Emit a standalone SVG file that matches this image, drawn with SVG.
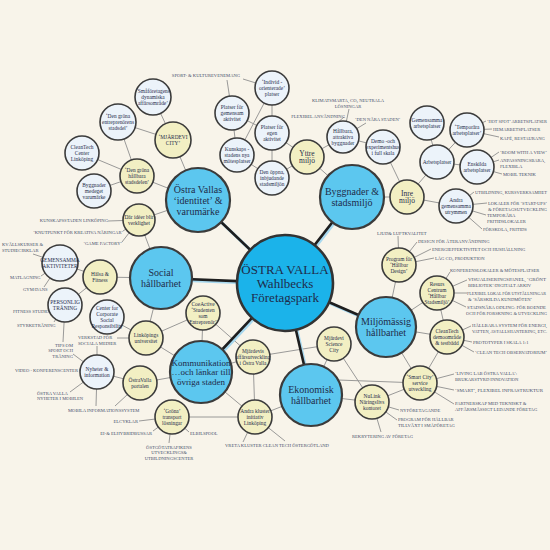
<svg xmlns="http://www.w3.org/2000/svg" width="550" height="550" viewBox="0 0 550 550">
<style>
.ln{stroke:#8e8e8e;stroke-width:0.9;fill:none}
.tk{stroke:#1e1e1e;stroke-width:2.6;fill:none}
.sh{stroke:#a9d9ef;stroke-width:3;fill:none}
.lb circle{fill:#ecf3fa;stroke:#3b3b3b;stroke-width:1.6}
.y circle{fill:#f2efc3;stroke:#3b3b3b;stroke-width:1.6}
.m circle{fill:#5cc7ef;stroke:#3b3b3b;stroke-width:2.2}
.ctr circle{fill:#1bb3ea;stroke:#333;stroke-width:2.6}
text{font-family:"Liberation Serif","DejaVu Serif",serif;text-anchor:middle;fill:#1f2c4a}
.lb text,.y text{font-size:5.4px}
.big text{font-size:7.5px}
.m text{font-size:10px}
.ctr text{font-size:13px}
.lab{font-size:4.6px;fill:#46506a;text-anchor:start}
.e{text-anchor:end}
.mid{text-anchor:middle}
</style>
<rect width="550" height="550" fill="#f8f4ea"/>
<g id="connectors">
<path class="ln" d="M153 97L173 140M118 122L173 140M118 122L137 176M82 153L137 176M94 191L137 176M137 176L198 200M173 140L198 200M139 220L198 200M139 220L161 278M232 113L237 155M232 113L272 133M272 88L272 133M272 88L237 155M237 155L272 178M272 133L272 178M272 178L307 157M272 133L307 157M307 157L343 137M307 157L352 197M343 137L383 147M383 147L407 197M407 197L352 197M407 197L437 162M407 197L456 206M427 123L437 162M467 130L437 162M437 162L477 167M399 265L386 327M437 293L386 327M437 293L447 337M447 337L386 327M447 337L420 383M420 383L386 327M338 380L420 383M420 383L372 402M372 402L311 395M372 402L334 344M334 344L311 395M334 344L253 357M253 357L201 372M253 357L255 417M253 357L203 313M255 417L311 395M255 417L172 417M255 417L201 372M140 383L201 372M140 383L97 372M107 317L146 338M146 338L161 278M146 338L203 313M146 338L201 372M203 313L201 372M65 305L100 277M60 263L100 277M100 277L161 278"/>
<path class="ln" d="M227 80L232 113M243 79L272 88M349 109L343 137M344 117L336 124M366 123L343 137M486 121L467 130M492 129L467 130M499 137L467 130M499 152L477 167M499 160L477 167M502 174L477 167M474 192L456 206M487 203L456 206M486 215L456 206M482 229L456 206M398 236L399 265M417 242L399 265M431 249L399 265M434 258L399 265M450 272L437 293M467 280L437 293M467 293L437 293M466 307L437 293M471 326L447 337M472 342L447 337M474 352L447 337M454 374L420 383M454 390L420 383M454 404L420 383M399 410L372 402M397 420L372 402M381 432L372 402M243 442L255 417M285 441L255 417M189 432L172 417M169 443L172 417M139 421L172 417M153 431L172 417M115 406L140 383M96 406L97 372M70 392L97 372M79 370L97 372M73 354L97 372M97 346L97 372M117 338L146 338M63 342L65 305M54 322L65 305M52 311L65 305M44 287L60 263M41 276L60 263M33 254L60 263M108 221L139 220M123 231L139 220M122 242L139 220"/>
<g transform="translate(1.4,1.4)"><path class="sh" d="M285 283L198 200M285 283L352 197M285 283L161 278M285 283L201 372M285 283L311 395M285 283L386 327"/></g>
<path class="tk" d="M285 283L198 200M285 283L352 197M285 283L161 278M285 283L201 372M285 283L311 395M285 283L386 327"/>
</g>
<g id="labels">
<text class="lab mid" x="206" y="76.6">SPORT- &amp; KULTUREVENEMANG</text>
<text class="lab mid" x="348" y="101.6">KLIMATSMARTA, CO₂ NEUTRALA<tspan x="348" dy="6">LÖSNINGAR</tspan></text>
<text class="lab e" x="345" y="117.6">FLEXIBEL ANVÄNDNING</text>
<text class="lab" x="355" y="120.6">‘DEN NÄRA STADEN’</text>
<text class="lab" x="487" y="122.6" textLength="60" lengthAdjust="spacingAndGlyphs">‘HOT SPOT’ ARBETSPLATSER</text>
<text class="lab" x="493" y="130.6">HEMARBETSPLATSER</text>
<text class="lab" x="500" y="139.6">KAFÉ, RESTAURANG</text>
<text class="lab" x="500" y="153.6">‘ROOM WITH A VIEW’</text>
<text class="lab" x="500" y="161.6">ANPASSNINGSBARA,<tspan x="500" dy="6.5">FLEXIBLA</tspan></text>
<text class="lab" x="503" y="175.6">MOBIL TEKNIK</text>
<text class="lab" x="475" y="193.6" textLength="72" lengthAdjust="spacingAndGlyphs">UTBILDNING, KURSVERKSAMHET</text>
<text class="lab" x="488" y="204.6" textLength="59" lengthAdjust="spacingAndGlyphs">LOKALER FÖR ‘START-UPS’</text>
<text class="lab" x="488" y="210.6" textLength="59" lengthAdjust="spacingAndGlyphs">&amp; FÖRETAGSUTVECKLING</text>
<text class="lab" x="487" y="216.6">TEMPORÄRA<tspan x="487" dy="6">FRITIDSLOKALER</tspan></text>
<text class="lab" x="483" y="230.6">FÖRSKOLA, FRITIDS</text>
<text class="lab" x="377" y="234.6">LJUD&amp; LUFTKVALITET</text>
<text class="lab" x="418" y="242.6">DESIGN FÖR ÅTERANVÄNDNING</text>
<text class="lab" x="432" y="250.6">ENERGIEFFEKTIVITET OCH HUSHÅLLNING</text>
<text class="lab" x="435" y="259.6">LÅG CO₂ PRODUKTION</text>
<text class="lab" x="450" y="271.6">KONFERENSLOKALER &amp; MÖTESPLATSER</text>
<text class="lab" x="468" y="280.6" textLength="78" lengthAdjust="spacingAndGlyphs">VISUALISERINGSPANEL, ‘GRÖNT</text>
<text class="lab" x="468" y="286.6">BIBLIOTEK’/DIGITALT ARKIV</text>
<text class="lab" x="467" y="294.6" style="font-size:4.15px">FLEXIBEL LOKAL FÖR UTSTÄLLNINGAR</text>
<text class="lab" x="468" y="300.6">&amp; ‘SÄRSKILDA KUNDMÖTEN’</text>
<text class="lab" x="467" y="308.6" textLength="79" lengthAdjust="spacingAndGlyphs">STADSNÄRA ODLING: FÖR BOENDE</text>
<text class="lab" x="466" y="314.6" textLength="81" lengthAdjust="spacingAndGlyphs">OCH FÖR FORSKNING &amp; UTVECKLING</text>
<text class="lab" x="472" y="326.6" textLength="75" lengthAdjust="spacingAndGlyphs">HÅLLBARA SYSTEM FÖR ENERGI,</text>
<text class="lab" x="472" y="332.6" textLength="75" lengthAdjust="spacingAndGlyphs">VATTEN, AVFALLSHANTERING, ETC.</text>
<text class="lab" x="473" y="343.6">PROTOTYPER I SKALA 1:1</text>
<text class="lab" x="475" y="353.6" textLength="72" lengthAdjust="spacingAndGlyphs">‘CLEAN TECH OBSERVATORIUM’</text>
<text class="lab" x="455" y="374.6">‘LIVING LAB ÖSTRA VALLA’:<tspan x="455" dy="6">BRUKARSTYRD INNOVATION</tspan></text>
<text class="lab" x="455" y="391.6" textLength="88" lengthAdjust="spacingAndGlyphs">‘SMART’, FLEXIBEL INFRASTRUKTUR</text>
<text class="lab" x="455" y="404.6">PARTNERSKAP MED TEKNISKT  &amp;<tspan x="455" dy="6">AFFÄRSMÄSSIGT LEDANDE FÖRETAG</tspan></text>
<text class="lab" x="400" y="411.6">NYFÖRETAGANDE</text>
<text class="lab" x="398" y="420.6">PROGRAM FÖR HÅLLBAR<tspan x="398" dy="6">TILLVÄXT I SMÅFÖRETAG</tspan></text>
<text class="lab" x="352" y="437.6">REKRYTERING AV FÖRETAG</text>
<text class="lab" x="225" y="446.6">VRETA KLUSTER CLEAN TECH ÖSTERGÖTLAND</text>
<text class="lab" x="190" y="434.6">ELBILSPOOL</text>
<text class="lab mid" x="169" y="448.6">ÖSTGÖTATRAFIKENS<tspan x="169" dy="5.5">UTVECKLINGS&amp;</tspan><tspan x="169" dy="5.5">UTBILDNINGSCENTER</tspan></text>
<text class="lab e" x="138" y="422.6">ELCYKLAR</text>
<text class="lab e" x="152" y="434.6">EI-&amp; ELHYBRIDBUSSAR</text>
<text class="lab" x="68" y="411.6">MOBILA INFORMATIONSSYSTEM</text>
<text class="lab" x="37" y="394.6">ÖSTRA VALLA<tspan x="37" dy="5.5">NYHETER I MOBILEN</tspan></text>
<text class="lab e" x="78" y="371.6">VIDEO - KONFERENSCENTER</text>
<text class="lab e" x="73" y="346.6">TIPS OM<tspan x="73" dy="5.5">SPORT OCH</tspan><tspan x="73" dy="5.5">TRÄNING</tspan></text>
<text class="lab" x="78" y="338.6">VERKSTAD FÖR<tspan x="78" dy="6">SOCIALA MEDIER</tspan></text>
<text class="lab" x="17" y="326.6">STYRKETRÄNING</text>
<text class="lab" x="13" y="312.6">FITNESS STUDIO</text>
<text class="lab" x="23" y="290.6">GYM/DANS</text>
<text class="lab" x="10" y="278.6">MATLAGNING</text>
<text class="lab" x="2" y="245.6">KVÄLLSKURSER &amp;<tspan x="2" dy="6.5">STUDIECIRKLAR</tspan></text>
<text class="lab e" x="122" y="244.6">‘GAME FACTORY’</text>
<text class="lab e" x="123" y="233.6">‘KNUTPUNKT FÖR KREATIVA NÄRINGAR’</text>
<text class="lab e" x="108" y="221.6">KUNSKAPSSTADEN LINKÖPING</text>
</g>
<g id="n-smaforetagens" class="lb"><circle cx="153" cy="97" r="18"/><text x="153" y="92.9">‘Småföretagens<tspan x="153" dy="6">dynamiska</tspan><tspan x="153" dy="6">affärsområde’</tspan></text></g>
<g id="n-mjardevi-city" class="y"><circle cx="173" cy="140" r="18"/><text x="173" y="138.9">‘MJÄRDEVI<tspan x="173" dy="6">CITY’</tspan></text></g>
<g id="n-den-grona-entr" class="lb"><circle cx="118" cy="122" r="18"/><text x="118" y="117.9">‘Den gröna<tspan x="118" dy="6">entreprenörens</tspan><tspan x="118" dy="6">stadsdel’</tspan></text></g>
<g id="n-cleantech-center" class="lb"><circle cx="82" cy="153" r="17"/><text x="82" y="148.9">CleanTech<tspan x="82" dy="6">Center</tspan><tspan x="82" dy="6">Linköping</tspan></text></g>
<g id="n-den-grona-hallbara" class="y"><circle cx="137" cy="176" r="17"/><text x="137" y="171.9">‘Den gröna<tspan x="137" dy="6">hållbara</tspan><tspan x="137" dy="6">stadsdelen’</tspan></text></g>
<g id="n-byggnader-medeget" class="lb"><circle cx="94" cy="191" r="17"/><text x="94" y="186.9">Byggnader<tspan x="94" dy="6">medeget</tspan><tspan x="94" dy="6">varumärke</tspan></text></g>
<g id="n-dar-ideer" class="y"><circle cx="139" cy="220" r="16"/><text x="139" y="218.9">Där idéer blir<tspan x="139" dy="6">verklighet</tspan></text></g>
<g id="n-platser-gemensam" class="lb"><circle cx="232" cy="113" r="17"/><text x="232" y="108.9">Platser för<tspan x="232" dy="6">gemensam</tspan><tspan x="232" dy="6">aktivitet</tspan></text></g>
<g id="n-individ" class="lb"><circle cx="272" cy="88" r="17"/><text x="272" y="83.9">‘Individ -<tspan x="272" dy="6">orienterade’</tspan><tspan x="272" dy="6">platser</tspan></text></g>
<g id="n-platser-egen" class="lb"><circle cx="272" cy="133" r="17"/><text x="272" y="128.9">Platser för<tspan x="272" dy="6">egen</tspan><tspan x="272" dy="6">aktivitet</tspan></text></g>
<g id="n-kunskaps" class="lb"><circle cx="237" cy="155" r="17"/><text x="237" y="150.9">Kunskaps -<tspan x="237" dy="6">stadens nya</tspan><tspan x="237" dy="6">mötesplatser</tspan></text></g>
<g id="n-den-oppna" class="lb"><circle cx="272" cy="178" r="17"/><text x="272" y="173.9">Den öppna,<tspan x="272" dy="6">inbjudande</tspan><tspan x="272" dy="6">stadsmiljön</tspan></text></g>
<g id="n-yttre" class="y big"><circle cx="307" cy="157" r="17"/><text x="307" y="155.9">Yttre<tspan x="307" dy="7.5">miljö</tspan></text></g>
<g id="n-hallbara" class="lb"><circle cx="343" cy="137" r="16"/><text x="343" y="132.9">Hållbara,<tspan x="343" dy="6">attraktiva</tspan><tspan x="343" dy="6">byggnader</tspan></text></g>
<g id="n-demo" class="lb"><circle cx="383" cy="147" r="17"/><text x="383" y="142.9">Demo -och<tspan x="383" dy="6">experimentshus</tspan><tspan x="383" dy="6">i full skala</tspan></text></g>
<g id="n-inre" class="y big"><circle cx="407" cy="197" r="17"/><text x="407" y="195.9">Inre<tspan x="407" dy="7.5">miljö</tspan></text></g>
<g id="n-gem-arb" class="lb"><circle cx="427" cy="123" r="17"/><text x="427" y="121.9">Gemensamma<tspan x="427" dy="6">arbetsplatser</tspan></text></g>
<g id="n-temp" class="lb"><circle cx="467" cy="130" r="17"/><text x="467" y="128.9">‘Temporära<tspan x="467" dy="6">arbetsplatser’</tspan></text></g>
<g id="n-arbetsplatser" class="lb"><circle cx="437" cy="162" r="17"/><text x="437" y="163.9">Arbetsplatser</text></g>
<g id="n-enskilda" class="lb"><circle cx="477" cy="167" r="17"/><text x="477" y="165.9">Enskilda<tspan x="477" dy="6">arbetsplatser</tspan></text></g>
<g id="n-andra-gem" class="lb"><circle cx="456" cy="206" r="17"/><text x="456" y="201.9">Andra<tspan x="456" dy="6">gemensamma</tspan><tspan x="456" dy="6">utrymmen</tspan></text></g>
<g id="n-program" class="y"><circle cx="399" cy="265" r="17"/><text x="399" y="260.9">Program för<tspan x="399" dy="6">‘Hållbar</tspan><tspan x="399" dy="6">Design’</tspan></text></g>
<g id="n-resurs" class="y"><circle cx="437" cy="293" r="17"/><text x="437" y="285.9">Resurs<tspan x="437" dy="6">Centrum</tspan><tspan x="437" dy="6">‘Hållbar</tspan><tspan x="437" dy="6">Stadsmiljö’</tspan></text></g>
<g id="n-cleantech-demo" class="y"><circle cx="447" cy="337" r="17"/><text x="447" y="332.9">CleanTech<tspan x="447" dy="6">demoområde</tspan><tspan x="447" dy="6">&amp; testbädd</tspan></text></g>
<g id="n-smart-city" class="y"><circle cx="420" cy="383" r="17"/><text x="420" y="378.9">‘Smart City’<tspan x="420" dy="6">service</tspan><tspan x="420" dy="6">utveckling</tspan></text></g>
<g id="n-nulink" class="y"><circle cx="372" cy="402" r="17"/><text x="372" y="397.9">NuLink<tspan x="372" dy="6">Näringslivs</tspan><tspan x="372" dy="6">kontoret</tspan></text></g>
<g id="n-mjardevi-sc" class="y"><circle cx="334" cy="344" r="17"/><text x="334" y="339.9">Mjärdevi<tspan x="334" dy="6">Science</tspan><tspan x="334" dy="6">City</tspan></text></g>
<g id="n-mjardevis-aff" class="y"><circle cx="253" cy="357" r="17"/><text x="253" y="352.9">Mjärdevis<tspan x="253" dy="6">affärsutveckling</tspan><tspan x="253" dy="6">i Östra Valla</tspan></text></g>
<g id="n-andra-kluster" class="y"><circle cx="255" cy="417" r="17"/><text x="255" y="412.9">Andra kluster<tspan x="255" dy="6">initiativ</tspan><tspan x="255" dy="6">Linköping</tspan></text></g>
<g id="n-grona" class="y"><circle cx="172" cy="417" r="17"/><text x="172" y="412.9">‘Gröna’<tspan x="172" dy="6">transport</tspan><tspan x="172" dy="6">lösningar</tspan></text></g>
<g id="n-portalen" class="y"><circle cx="140" cy="383" r="17"/><text x="140" y="381.9">ÖstraValla<tspan x="140" dy="6">portalen</tspan></text></g>
<g id="n-nyheter" class="lb"><circle cx="97" cy="372" r="17"/><text x="97" y="370.9">Nyheter &amp;<tspan x="97" dy="6">information</tspan></text></g>
<g id="n-linkopings-univ" class="y"><circle cx="146" cy="338" r="17"/><text x="146" y="336.9">Linköpings<tspan x="146" dy="6">universitet</tspan></text></g>
<g id="n-coeactive" class="y"><circle cx="203" cy="313" r="17"/><text x="203" y="305.9">CoeActive<tspan x="203" dy="6">‘Studenten</tspan><tspan x="203" dy="6">som</tspan><tspan x="203" dy="6">Entreprenör’</tspan></text></g>
<g id="n-csr" class="lb"><circle cx="107" cy="317" r="17"/><text x="107" y="309.9">Center for<tspan x="107" dy="6">Corporate</tspan><tspan x="107" dy="6">Social</tspan><tspan x="107" dy="6">Responsibility</tspan></text></g>
<g id="n-personlig" class="lb"><circle cx="65" cy="305" r="17"/><text x="65" y="303.9">PERSONLIG<tspan x="65" dy="6">TRÄNING</tspan></text></g>
<g id="n-halsa" class="y"><circle cx="100" cy="277" r="17"/><text x="100" y="275.9">Hälsa &amp;<tspan x="100" dy="6">Fitness</tspan></text></g>
<g id="n-gem-akt" class="lb"><circle cx="60" cy="263" r="18"/><text x="60" y="261.9">GEMENSAMMA<tspan x="60" dy="6">AKTIVITETER</tspan></text></g>
<g id="n-identitet" class="m"><circle cx="198" cy="200" r="32"/><text x="198" y="192.5">Östra Vallas<tspan x="198" dy="11">‘identitet’ &amp;</tspan><tspan x="198" dy="11">varumärke</tspan></text></g>
<g id="n-byggnader" class="m"><circle cx="352" cy="197" r="32"/><text x="352" y="195">Byggnader &amp;<tspan x="352" dy="11">stadsmiljö</tspan></text></g>
<g id="n-social" class="m"><circle cx="161" cy="278" r="31"/><text x="161" y="276">Social<tspan x="161" dy="11">hållbarhet</tspan></text></g>
<g id="n-kommunikation" class="m"><circle cx="201" cy="372" r="31"/><text x="201" y="365.6" style="font-size:9px">Kommunikation<tspan x="201" dy="9.5">…och länkar till</tspan><tspan x="201" dy="9.5">övriga staden</tspan></text></g>
<g id="n-ekonomisk" class="m"><circle cx="311" cy="395" r="31"/><text x="311" y="393">Ekonomisk<tspan x="311" dy="11">hållbarhet</tspan></text></g>
<g id="n-miljomassig" class="m"><circle cx="386" cy="327" r="30"/><text x="386" y="325">Miljömässig<tspan x="386" dy="11">hållbarhet</tspan></text></g>
<g id="n-center" class="ctr"><circle cx="285" cy="283" r="48"/><text x="285" y="273.5">ÖSTRA VALLA<tspan x="285" dy="14">Wahlbecks</tspan><tspan x="285" dy="14">Företagspark</tspan></text></g>
</svg>
